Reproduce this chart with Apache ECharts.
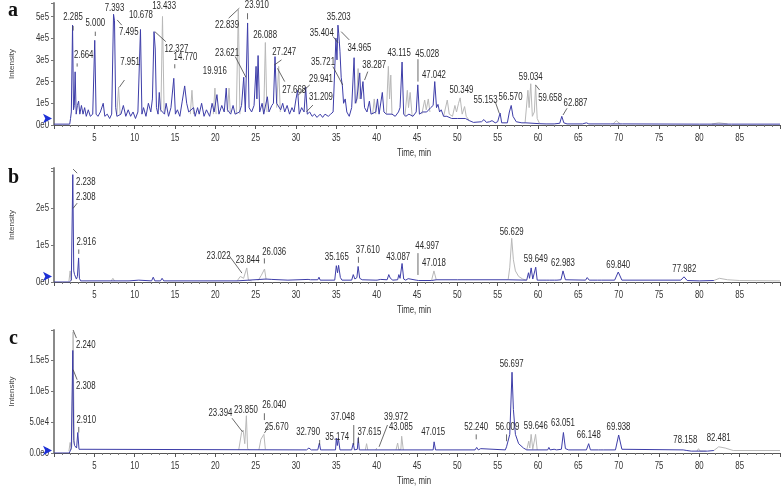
<!DOCTYPE html>
<html><head><meta charset="utf-8">
<script src="https://cdn.jsdelivr.net/npm/echarts@6/dist/echarts.min.js"></script>
<style>html,body{margin:0;padding:0;background:#fff}#c{width:784px;height:499px}</style>
</head><body><div id="c"></div>
<script>
// intensities in units of 1e4 counts
const UNIT = 1e4;
const xTicks = [5,10,15,20,25,30,35,40,45,50,55,60,65,70,75,80,85];
const yTicksA = ['0e0','1e5','2e5','3e5','4e5','5e5'];
const yTicksB = ['0e0','1e5','2e5'];
const yTicksC = ['0.0e0','5.0e4','1.0e5','1.5e5'];
const xTitle = 'Time, min';
const yTitle = 'Intensity';

const blueA = [[0,0.4],[1.95,0.4],[2.05,3],[2.15,6],[2.3,46],[2.42,7],[2.52,9],[2.62,24.5],[2.75,5],[2.9,9],[3.05,11],[3.2,5],[3.4,9],[3.6,5],[3.8,8],[4.0,4],[4.25,7],[4.5,4],[4.8,5],[5.05,39],[5.22,5],[5.45,4],[5.75,6],[6.1,10],[6.3,4],[6.6,5],[6.9,3],[7.15,5],[7.38,51],[7.5,48],[7.65,8],[7.8,4],[8.3,5],[8.6,9],[8.9,4],[9.2,7],[9.5,4],[9.8,6],[10.1,3],[10.4,6],[10.72,44],[10.9,5],[11.1,8],[11.4,4],[11.7,10],[12.0,6],[12.2,12],[12.4,43],[12.55,35],[12.7,8],[12.9,5],[13.05,15],[13.2,7],[13.7,5],[13.9,10],[14.2,4],[14.5,8],[14.85,21.5],[15.05,5],[15.3,7],[15.6,4],[15.9,11],[16.2,18],[16.45,10],[16.7,6],[17.3,8],[17.5,4],[17.8,8],[18.0,5],[18.3,10],[18.6,4],[18.9,7],[19.3,4],[19.6,10],[19.85,6],[20.2,14],[20.45,5],[20.8,9],[21.1,6],[21.35,17],[21.5,7],[21.9,5],[22.2,9],[22.45,5],[23.0,6],[23.25,9],[23.52,22],[23.72,6],[24.0,47],[24.18,8],[24.5,6],[24.8,9],[25.05,27],[25.15,12],[25.3,32],[25.5,6],[25.8,10],[26.0,5],[26.45,13],[26.65,6],[27.0,9],[27.2,10],[27.4,31.5],[27.6,10],[28.1,7],[28.35,10],[28.6,6],[28.9,9],[29.2,5],[29.5,8],[29.75,6],[30.0,12],[30.2,16],[30.4,5],[30.7,8],[31.0,6],[31.2,17.5],[31.4,5],[31.7,6],[32.0,4],[32.3,5],[32.6,3.5],[33.0,5],[33.3,3.5],[33.6,5],[34.0,4],[34.3,5],[34.6,6],[34.8,6],[34.95,40],[35.08,30],[35.2,46],[35.3,42],[35.45,34],[35.6,22],[35.75,18],[35.9,10],[36.1,12],[36.3,6],[36.6,4],[36.9,8],[37.2,31],[37.35,10],[37.55,12],[37.9,24],[38.05,12],[38.3,20],[38.5,8],[38.8,6],[39.1,11],[39.3,5],[39.9,6],[40.1,12],[40.3,5],[40.7,15],[40.9,6],[41.2,5],[41.9,5],[42.3,4],[42.7,6],[42.9,8],[43.15,29],[43.35,5],[43.6,4],[44.0,5],[44.5,4],[44.9,6],[45.1,18.5],[45.3,5],[45.7,6],[46.2,6],[46.7,8],[47.0,9],[47.2,20],[47.42,8],[47.6,9.5],[47.8,6],[48.0,7],[48.3,4],[48.7,4],[49.3,3],[50,3],[51,3],[51.5,2],[52,1.2],[53,1.5],[53.3,2.5],[53.6,1.2],[54,1.5],[54.3,2],[54.7,1],[55.0,1.5],[55.3,5.5],[55.5,1],[56.2,1],[56.45,6],[56.68,9],[56.9,4],[57.3,1.5],[58.0,1],[58.5,1],[60.2,0.6],[61,0.5],[62,0.5],[62.7,0.8],[62.95,4],[63.2,1],[63.6,0.5],[65.5,0.5],[66,1],[66.3,0.5],[69,0.5],[70.5,0.5],[80,0.4],[81.5,0.4],[84,0.4],[90,0.4]];
const greyA = [
 [[7.8,5],[8.0,17.5],[8.2,5]],
 [[13.25,6],[13.45,50],[13.65,6]],
 [[16.9,5],[17.1,16],[17.3,5]],
 [[19.75,5],[19.95,17],[20.1,5]],
 [[21.5,6],[21.7,17],[21.85,6]],
 [[22.6,5],[22.85,53],[23.05,5]],
 [[26.0,5],[26.2,38],[26.4,6]],
 [[27.6,8],[27.85,27],[28.05,6]],
 [[37.5,10],[37.7,26],[37.85,12]],
 [[39.5,5],[39.7,12],[39.9,5]],
 [[41.2,5],[41.45,27],[41.6,12],[41.75,23],[41.9,5]],
 [[43.5,4],[43.8,16],[43.95,8],[44.15,15],[44.4,4]],
 [[45.6,5],[45.95,11.5],[46.15,7],[46.4,12],[46.6,6]],
 [[48.3,4],[48.75,11.5],[49.0,5],[49.4,4],[49.7,9],[49.9,6],[50.15,10],[50.35,12.5],[50.6,5],[50.9,8.5],[51.1,4],[51.5,2]],
 [[58.4,1],[58.75,16],[58.9,8],[59.1,19],[59.3,4],[59.55,6],[59.7,18.5],[59.9,3],[60.2,0.6]],
 [[69.3,0.5],[69.7,2],[70.2,0.5]],
 [[81.5,0.4],[82.4,1.0],[83.5,0.5]]
];

const blueB = [[0,0],[1.9,0],[2.15,0.5],[2.33,29],[2.45,3],[2.55,2],[2.62,1.5],[2.68,2],[2.78,0.8],[2.9,1.5],[3.05,6.5],[3.15,1],[3.3,0.3],[9.3,0.3],[9.5,0.5],[10.5,0.5],[10.7,0.3],[12.1,0.3],[12.3,1.3],[12.5,0.3],[13.2,0.3],[13.4,1.0],[13.6,0.3],[22.7,0.3],[26.3,0.8],[27,0.7],[29,0.5],[31.5,0.7],[31.6,1.2],[31.8,0.6],[32.7,0.6],[32.85,1.3],[33,0.5],[34.8,0.5],[35.0,4.4],[35.15,2.5],[35.28,4.5],[35.5,1.2],[35.7,0.5],[36.9,0.5],[37.1,2.0],[37.3,0.8],[37.55,1.2],[37.7,4.2],[37.9,1],[38.2,0.6],[39.8,0.5],[39.9,1],[40.05,0.5],[40.5,0.7],[40.6,0.5],[41.3,0.6],[41.5,2.0],[41.7,1],[42.0,0.5],[42.6,0.6],[42.75,2.0],[42.9,1],[43.15,5.0],[43.35,0.8],[43.6,0.5],[43.9,0.9],[44.1,0.5],[44.9,0.5],[45.05,1.0],[45.2,0.4],[46.8,0.4],[47.4,0.6],[50,0.6],[56.3,0.6],[58.6,0.5],[58.82,2.5],[58.95,1.0],[59.15,3.8],[59.35,0.8],[59.5,0.8],[59.72,4.0],[59.9,0.5],[61.1,0.5],[61.25,1.0],[61.4,0.5],[62.05,0.5],[62.2,1.0],[62.35,0.5],[62.85,0.6],[63.1,3.0],[63.4,0.6],[65.9,0.5],[66.1,1.2],[66.35,0.5],[67.4,0.5],[67.6,0.8],[67.9,0.5],[69.5,0.5],[69.95,2.7],[70.4,0.5],[77.7,0.5],[78.1,1.4],[78.5,0.4],[80,0.3],[81.8,0.4]];
const greyB = [
 [[1.85,0.2],[2.0,3],[2.15,0.3]],
 [[7.1,0.3],[7.3,1.0],[7.5,0.3]],
 [[22.7,0.3],[23.1,1.5],[23.3,2],[23.5,1],[23.65,0.8],[23.9,3.8],[24.1,0.5],[24.5,0.3]],
 [[25.3,0.4],[25.7,1.8],[25.9,1.5],[26.1,3.5],[26.3,0.6]],
 [[46.8,0.4],[47.1,3.0],[47.4,0.5]],
 [[56.3,0.6],[56.5,4],[56.74,11.8],[56.95,6],[57.2,3],[57.6,1.5],[58.1,0.8],[58.6,0.5]],
 [[81.8,0.4],[82.5,1.0],[83.5,0.6],[85,0.4],[90,0.3]]
];

const blueC = [[0,0],[1.9,0],[2.15,0.8],[2.33,16.5],[2.45,2],[2.55,1.2],[2.62,1.0],[2.8,0.8],[2.95,3.3],[3.1,0.6],[3.3,0.5],[31.3,0.5],[31.6,0.8],[31.9,0.5],[32.7,0.5],[32.9,1.6],[33.05,0.5],[34.9,0.5],[35.0,2.4],[35.12,1.2],[35.25,2.4],[35.45,0.5],[36.9,0.5],[37.1,1.6],[37.25,0.5],[37.6,0.6],[37.72,2.4],[37.85,0.5],[47.0,0.5],[47.12,1.8],[47.3,0.5],[52.2,0.5],[52.4,0.9],[52.6,0.5],[52.9,0.7],[53.1,0.5],[55.95,0.5],[56.1,1.0],[56.3,0.7],[56.5,3],[56.78,13],[56.95,7],[57.2,3],[57.6,1.5],[58.2,0.8],[58.6,0.5],[61.2,0.5],[61.35,0.9],[61.5,0.5],[62.0,0.6],[62.15,0.9],[62.3,0.5],[62.9,0.6],[63.15,3.3],[63.4,0.7],[63.8,0.5],[66.0,0.5],[66.28,1.5],[66.5,0.5],[67.5,0.5],[67.65,0.8],[67.8,0.5],[68.0,0.7],[68.15,0.5],[69.6,0.5],[70.0,2.9],[70.4,0.6],[78.0,0.5],[78.2,0.8],[78.45,0.4],[79,0.3],[81,0.3],[81.8,0.4]];
const greyC = [
 [[1.85,0.3],[2.0,1.7],[2.15,0.5]],
 [[2.2,1],[2.37,19.5],[2.5,1.5]],
 [[22.9,0.5],[23.25,3.3],[23.45,3.7],[23.65,1.5],[23.85,6],[24.0,0.7],[24.2,0.5]],
 [[25.4,0.5],[25.65,2.2],[25.85,2.5],[26.02,3.0],[26.2,0.6]],
 [[38.6,0.5],[38.75,1.5],[38.9,0.5]],
 [[39.9,0.5],[40.0,0.8],[40.1,0.5]],
 [[42.4,0.5],[42.6,1.6],[42.75,0.5],[43.0,0.6],[43.1,2.7],[43.3,0.5]],
 [[58.6,0.5],[58.85,1.9],[58.98,0.8],[59.15,3.0],[59.35,0.6],[59.55,0.6],[59.7,3.0],[59.9,0.5]],
 [[79.7,0.3],[79.9,0.7],[80.1,0.3],[80.5,0.3],[80.6,0.6],[80.8,0.3]],
 [[81.8,0.4],[82.4,1.0],[83.2,0.8],[84.2,0.4],[90,0.4]]
];

// [text, labelX, labelY, leaderX1, leaderY1, leaderX2, leaderY2]
const labelsA = [
 ['2.285',2.37,48,2.37,45.6,2.37,43.5],['2.664',3.68,30.7,2.87,28.4,2.87,26.9],['5.000',5.12,45.3,5.12,43,5.12,41],
 ['7.393',7.5,52.2],['7.495',9.27,41.2,8.4,46,7.83,48.4],['7.951',9.43,27.3,8.73,20.7,8.1,17.4],
 ['10.678',10.78,49.2],['12.327',15.17,33.3,13.86,38.4,12.5,43],['13.433',13.65,53.3],
 ['14.770',16.3,30,14.97,28,14.97,26.1],['19.916',19.93,23.5],['22.839',21.45,44.6,21.65,49.2,22.97,53.8],
 ['23.910',25.14,53.8,23.99,51.5,23.99,48.7],['23.621',21.45,31.5,22.47,31.5,23.79,22],['26.088',26.17,40],
 ['27.247',28.54,31.9,28.2,30,27.3,27.6],['27.668',29.77,14.6,28.6,20,27.7,26.1],['29.941',33.1,19.7,31.7,18.4,30.27,13.8],
 ['31.209',33.1,11.2,32.1,9.2,31.3,6.1],['35.203',35.3,48.4],['35.404',33.2,41,34.6,40.7,35.2,37.9],
 ['34.965',37.86,33.8,36.6,39.2,35.6,43],['35.721',33.35,27.6,34.57,26.9,35.8,18.4],['38.287',39.7,26.1,38.9,24.6,38.5,20.7],
 ['43.115',42.78,31.8],['45.028',46.27,31.2,45.12,30.3,45.12,20],['47.042',47.1,21.5],['50.349',50.5,14.6],
 ['55.153',53.5,10,54.7,10.7,55.2,5.4],['56.570',56.6,11.2],['59.034',59.1,20.7],
 ['59.658',61.5,10.7,60.2,16.1,59.7,18.4],['62.887',64.65,8.8,63.6,7.7,63.1,4.6]
];
const labelsB = [
 ['2.238',3.93,26.2,2.87,29.4,2.37,30.5],['2.308',3.93,22.2,2.87,21.3,2.37,19.9],['2.916',4.0,10,3.07,8.8,3.07,7.6],
 ['23.022',20.4,6.1,21.65,7.3,23.3,2.4],['23.844',24.0,5.0],['26.036',27.3,7.3,26.08,6.4,26.08,5],
 ['35.165',35.06,5.9],['37.610',38.9,7.8,37.74,6.8,37.74,5.2],['43.087',42.66,5.9],
 ['44.997',46.27,8.8,45.12,7.8,45.12,1.9],['47.018',47.1,4.1],['56.629',56.73,12.7],['59.649',59.73,5.2],
 ['62.983',63.1,4.1],['69.840',69.95,3.7],['77.982',78.14,2.5]
];
const labelsC = [
 ['2.240',3.93,16.9,2.78,18.5,2.37,19.8],['2.308',3.93,10.2,2.87,11.8,2.37,13.4],['2.910',4.0,4.7,3.07,4.2,3.07,3.3],
 ['23.394',20.63,5.9,22.07,5.6,23.37,3.4],['23.850',23.79,6.4],['26.040',27.3,7.2,26.08,6.4,26.08,5.3],
 ['25.670',27.6,3.7,26.57,4.2,26.08,3.2],['32.790',31.5,2.9,32.93,2.1,32.93,1.3],['35.174',35.1,2.1],
 ['37.048',35.8,5.3,37.16,4.5,37.16,1.3],['37.615',39.1,2.9,37.74,2.6,37.74,1.6],['39.972',42.4,5.3,41.34,4.5,40.3,1.0],
 ['43.085',43.0,3.6],['47.015',47.0,2.8],['52.240',52.34,3.6,52.34,3.0,52.34,2.2],['56.009',56.2,3.6,56.1,3.0,56.1,1.9],
 ['56.697',56.73,13.8],['59.646',59.73,3.8],['63.051',63.1,4.3],['66.148',66.3,2.3],['69.938',69.98,3.6],
 ['78.158',78.26,1.6],['82.481',82.4,1.8]
];
const panelNames = ['a','b','c'];
const arrowLevel = [3.0, 1.5, 0.4];

// ---------- build ----------
const BLUE = '#3d3da8', GREY = '#b8b8b8';
const SANS = "'Liberation Sans',Arial,sans-serif";
const SQUEEZE = 0.68;
const toPts = arr => arr.map(p => [p[0], p[1]*UNIT]);
const joinSegs = segs => { const out = []; segs.forEach((s,i) => { if (i) out.push(['-','-']); toPts(s).forEach(p => out.push(p)); }); return out; };

const grids = [
  {left:48, right:4, top:3, height:122},
  {left:48, right:4, top:168, height:114},
  {left:48, right:4, top:330, height:123}
];
const yMax = [5.62e5, 3.08e5, 1.98e5];
const yInt = [1e5, 1e5, 5e4];
const yTickText = [yTicksA, yTicksB, yTicksC];

const xAxes = grids.map((g,i) => ({
  type:'value', gridIndex:i, min:0, max:90, interval:5,
  axisLine:{lineStyle:{color:'#555', width:1}},
  axisTick:{length:4, lineStyle:{color:'#555'}},
  minorTick:{show:true, splitNumber:5, length:2, lineStyle:{color:'#777'}},
  splitLine:{show:false},
  axisLabel:{show:false}
}));
const yAxes = grids.map((g,i) => ({
  type:'value', gridIndex:i, min:0, max:yMax[i], interval:yInt[i],
  name:yTitle, nameLocation:'middle', nameGap:38, nameRotate:90,
  nameTextStyle:{fontSize:8, color:'#444', fontFamily:SANS},
  axisLine:{show:true, lineStyle:{color:'#8a8a8a', width:2}},
  axisTick:{show:true, length:3, lineStyle:{color:'#777'}},
  splitLine:{show:false},
  axisLabel:{show:false}
}));

function squeezedText(x, y, text, align, vAlign, size, color) {
  return {type:'text', x:x, y:y, scaleX:SQUEEZE,
    style:{text:text, fontSize:size, fontFamily:SANS, fill:color, align:align, verticalAlign:vAlign}};
}

function labelSeries(labels, gi) {
  return {
    type:'custom', xAxisIndex:gi, yAxisIndex:gi, silent:true, clip:false, z:10,
    data: labels.map(l => l.length > 3
      ? [l[1], l[2]*UNIT, l[3], l[4]*UNIT, l[5], l[6]*UNIT, 1]
      : [l[1], l[2]*UNIT, l[1], l[2]*UNIT, l[1], l[2]*UNIT, 0]),
    encode:{x:[0,2,4], y:[1,3,5]},
    renderItem:(params, api) => {
      const p = api.coord([api.value(0), api.value(1)]);
      const children = [squeezedText(p[0], p[1] + 2.5, labels[params.dataIndex][0], 'center', 'bottom', 11.5, '#2a2a2a')];
      if (api.value(6) === 1) {
        const a = api.coord([api.value(2), api.value(3)]);
        const b = api.coord([api.value(4), api.value(5)]);
        children.push({type:'line', shape:{x1:a[0], y1:a[1], x2:b[0], y2:b[1]},
          style:{stroke:'#444', lineWidth:0.8}});
      }
      return {type:'group', children};
    }
  };
}

// tick labels drawn at the axis tick positions, horizontally condensed like the source figure
function xTickSeries(gi) {
  return {
    type:'custom', xAxisIndex:gi, yAxisIndex:gi, silent:true, clip:false, z:10,
    data: xTicks.map(t => [t, 0]), encode:{x:0, y:1},
    renderItem:(params, api) => {
      const p = api.coord([api.value(0), 0]);
      return squeezedText(p[0], p[1] + 7, String(xTicks[params.dataIndex]), 'center', 'top', 11.5, '#333');
    }
  };
}
function yTickSeries(gi) {
  const vals = yTickText[gi].map((s, k) => k * yInt[gi]);
  return {
    type:'custom', xAxisIndex:gi, yAxisIndex:gi, silent:true, clip:false, z:10,
    data: vals.map(v => [0, v]), encode:{x:0, y:1},
    renderItem:(params, api) => {
      const p = api.coord([0, api.value(1)]);
      return squeezedText(p[0] - 5, p[1], yTickText[gi][params.dataIndex], 'right', 'middle', 11.5, '#333');
    }
  };
}

const series = [];
[[blueA, greyA, labelsA],[blueB, greyB, labelsB],[blueC, greyC, labelsC]].forEach((d, i) => {
  series.push({type:'line', xAxisIndex:i, yAxisIndex:i, data:joinSegs(d[1]), showSymbol:false, symbol:'none',
    connectNulls:false, lineStyle:{color:GREY, width:1}, z:2, silent:true});
  series.push({type:'line', xAxisIndex:i, yAxisIndex:i, data:toPts(d[0]), showSymbol:false, symbol:'none',
    lineStyle:{color:BLUE, width:1}, z:3, silent:true,
    markPoint:{silent:true, symbol:'arrow', symbolSize:[7,9], symbolRotate:-90, symbolOffset:[-2,0],
      itemStyle:{color:'#1c2fd6'}, label:{show:false}, z:12,
      data:[{coord:[0, arrowLevel[i]*UNIT]}]}});
  series.push(labelSeries(d[2], i));
  series.push(xTickSeries(i));
  series.push(yTickSeries(i));
});

const W = 784;
const graphic = [];
grids.forEach((g, i) => {
  const cx = g.left + (W - g.left - g.right) / 2;
  const axisY = g.top + g.height;
  graphic.push({type:'text', x:cx, y:axisY + 22, scaleX:SQUEEZE,
    style:{text:xTitle, fontSize:11.5, fontFamily:SANS, fill:'#333', align:'center', verticalAlign:'top'}});
});
graphic.push({type:'text', x:8, y:1, style:{text:panelNames[0], font:"bold 20px 'Liberation Serif',serif", fill:'#111'}});
graphic.push({type:'text', x:8, y:168, style:{text:panelNames[1], font:"bold 20px 'Liberation Serif',serif", fill:'#111'}});
graphic.push({type:'text', x:9, y:329, style:{text:panelNames[2], font:"bold 20px 'Liberation Serif',serif", fill:'#111'}});

const chart = echarts.init(document.getElementById('c'), null, {renderer:'canvas'});
chart.setOption({
  animation:false,
  backgroundColor:'#fff',
  grid:grids,
  xAxis:xAxes,
  yAxis:yAxes,
  series:series,
  graphic:graphic
});
</script></body></html>
